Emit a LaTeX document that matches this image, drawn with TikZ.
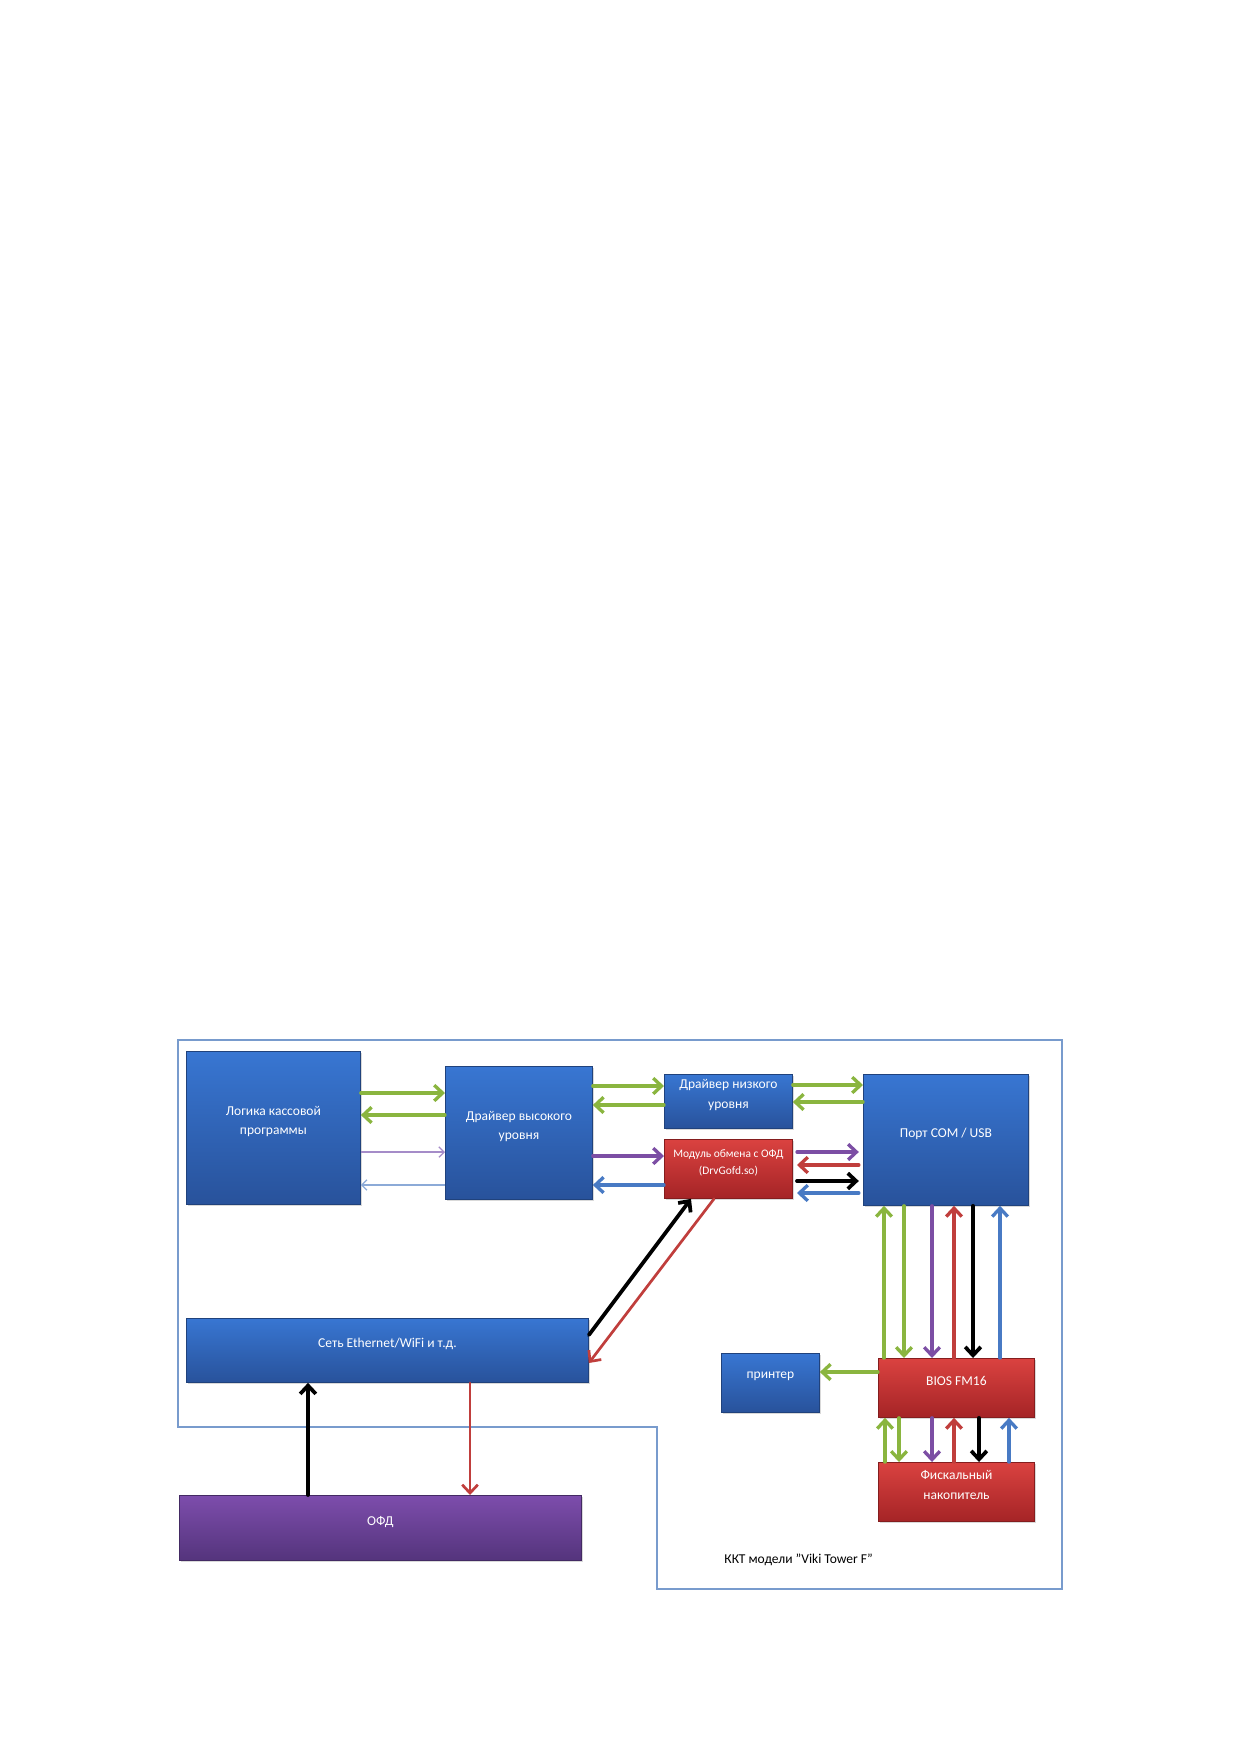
\documentclass[tikz,border=0pt]{standalone}
\usepackage{fontspec}
\setmainfont{Carlito}
\usetikzlibrary{arrows.meta,shadows}

\definecolor{boxblue}{RGB}{56,118,210}
\definecolor{boxbluedk}{RGB}{40,82,155}
\definecolor{boxred}{RGB}{218,66,64}
\definecolor{boxreddk}{RGB}{165,36,38}
\definecolor{boxviolet}{RGB}{125,77,172}
\definecolor{boxvioletdk}{RGB}{84,52,124}
\definecolor{lgreen}{RGB}{138,181,63}
\definecolor{lviolet}{RGB}{124,78,164}
\definecolor{lred}{RGB}{192,62,60}
\definecolor{lblue}{RGB}{72,122,196}
\definecolor{lvioletlt}{RGB}{165,140,200}
\definecolor{lbluelt}{RGB}{140,170,215}
\definecolor{kktframe}{RGB}{120,155,205}

\begin{document}
\begin{tikzpicture}[x=0.4804pt, y=-0.4804pt,
    boxsize/.style 2 args={minimum width=#1*0.4804pt, minimum height=#2*0.4804pt},
    box/.style={anchor=north west, inner sep=1pt, align=center, text=white,
        font=\fontsize{6.5}{9.4}\selectfont, text depth=7pt, thin,
        drop shadow={opacity=0.3, shadow xshift=0.8pt, shadow yshift=-0.8pt}},
    bluebox/.style={box, draw=boxbluedk!80!black, top color=boxblue, bottom color=boxbluedk},
    redbox/.style={box, draw=boxreddk!80!black, top color=boxred, bottom color=boxreddk},
    violetbox/.style={box, draw=boxvioletdk!80!black, top color=boxviolet, bottom color=boxvioletdk},
    link/.style={line width=1.6pt, line cap=round, -{Straight Barb[length=4pt,width=7.5pt]}},
    glink/.style={link, lgreen},
    vlink/.style={link, lviolet},
    rlink/.style={link, lred},
    blink/.style={link, lblue},
    klink/.style={link, black, line width=1.8pt},
    thinlink/.style={line width=0.6pt, -{Straight Barb[length=2.5pt,width=5pt]}}]
    \useasboundingbox (0,0) rectangle (1239,1752);

    % frame of the KKT
    \draw[kktframe, line width=0.7pt] (178,1040) -- (1062,1040) -- (1062,1589) -- (657,1589)
        -- (657,1427) -- (178,1427) -- cycle;

    \node[bluebox, boxsize={174}{153}] (logic) at (186,1051) {Логика кассовой\\программы};
    \node[bluebox, boxsize={147}{133}] (hdrv) at (445,1066) {Драйвер высокого\\уровня};
    \node[bluebox, boxsize={128}{54}] (ldrv) at (664,1074) {Драйвер низкого\\уровня};
    \node[redbox, boxsize={128}{59}, font=\fontsize{5.5}{8.2}\selectfont] (ofdmod) at (664,1139) {Модуль обмена с ОФД\\(DrvGofd.so)};
    \node[bluebox, boxsize={165}{131}] (port) at (863,1074) {Порт COM / USB};
    \node[bluebox, boxsize={402}{64}] (net) at (186,1318) {Сеть Ethernet/WiFi и т.д.};
    \node[violetbox, boxsize={402}{65}] (ofd) at (179,1495) {ОФД};
    \node[bluebox, boxsize={98}{59}] (printer) at (721,1353) {принтер};
    \node[redbox, boxsize={156}{59}] (bios) at (878,1358) {BIOS FM16};
    \node[redbox, boxsize={156}{59}] (fn) at (878,1462) {Фискальный\\накопитель};
    \node[anchor=west, inner sep=0pt, font=\fontsize{6.5}{8}\selectfont] (kkt) at (724,1560) {ККТ модели "Viki Tower F"};

    % logic <-> high level driver
    \draw[glink] (logic.east |- 0,1093) -- (hdrv.west |- 0,1093);
    \draw[glink] (hdrv.west |- 0,1115) -- (logic.east |- 0,1115);
    \draw[thinlink, lvioletlt] (logic.east |- 0,1152) -- (hdrv.west |- 0,1152);
    \draw[thinlink, lbluelt] (hdrv.west |- 0,1185) -- (logic.east |- 0,1185);

    % high level driver <-> low level driver, module
    \draw[glink] (hdrv.east |- 0,1086) -- (ldrv.west |- 0,1086);
    \draw[glink] (ldrv.west |- 0,1105) -- (hdrv.east |- 0,1105);
    \draw[vlink] (hdrv.east |- 0,1156) -- (ofdmod.west |- 0,1156);
    \draw[blink] (ofdmod.west |- 0,1185) -- (hdrv.east |- 0,1185);

    % low level driver, module <-> port
    \draw[glink] (ldrv.east |- 0,1085) -- (port.west |- 0,1085);
    \draw[glink] (port.west |- 0,1102) -- (ldrv.east |- 0,1102);
    \draw[vlink, shorten <=2pt, shorten >=2pt] (ofdmod.east |- 0,1152) -- (port.west |- 0,1152);
    \draw[rlink, shorten <=2pt, shorten >=2pt] (port.west |- 0,1165) -- (ofdmod.east |- 0,1165);
    \draw[klink, shorten <=2pt, shorten >=2pt] (ofdmod.east |- 0,1181) -- (port.west |- 0,1181);
    \draw[blink, shorten <=2pt, shorten >=2pt] (port.west |- 0,1193) -- (ofdmod.east |- 0,1193);

    % port <-> BIOS
    \draw[glink] (bios.north -| 884,0) -- (port.south -| 884,0);
    \draw[glink] (port.south -| 904,0) -- (bios.north -| 904,0);
    \draw[vlink] (port.south -| 932,0) -- (bios.north -| 932,0);
    \draw[rlink] (bios.north -| 954,0) -- (port.south -| 954,0);
    \draw[klink] (port.south -| 973,0) -- (bios.north -| 973,0);
    \draw[blink] (bios.north -| 1000,0) -- (port.south -| 1000,0);

    % BIOS <-> fiscal storage
    \draw[glink] (fn.north -| 885,0) -- (bios.south -| 885,0);
    \draw[glink] (bios.south -| 899,0) -- (fn.north -| 899,0);
    \draw[vlink] (bios.south -| 932,0) -- (fn.north -| 932,0);
    \draw[rlink] (fn.north -| 954,0) -- (bios.south -| 954,0);
    \draw[klink] (bios.south -| 979,0) -- (fn.north -| 979,0);
    \draw[blink] (fn.north -| 1009,0) -- (bios.south -| 1009,0);

    \draw[glink] (bios.west |- 0,1372) -- (printer.east |- 0,1372);

    % network <-> module, OFD
    \draw[klink] (net.east |- 0,1335) -- (ofdmod.south -| 691,0);
    \draw[rlink, line width=1.3pt] (ofdmod.south -| 714,0) -- (net.east |- 0,1363);
    \draw[klink] (ofd.north -| 308,0) -- (net.south -| 308,0);
    \draw[rlink, line width=1.3pt] (net.south -| 470,0) -- (ofd.north -| 470,0);
\end{tikzpicture}
\end{document}
